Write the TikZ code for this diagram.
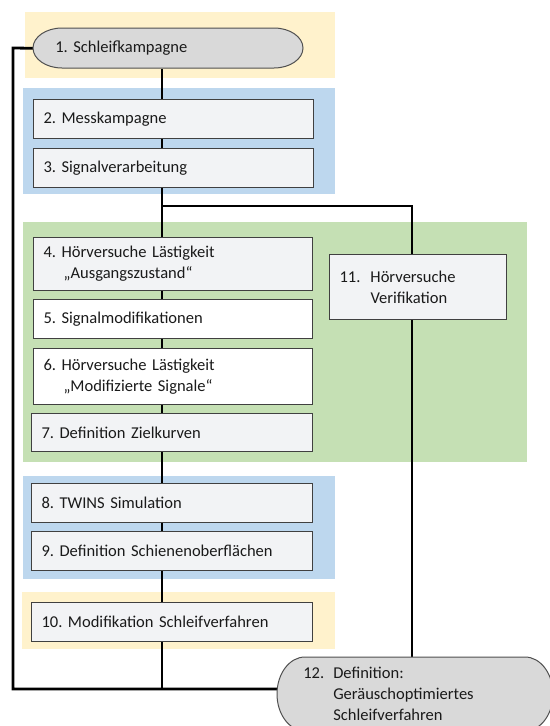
\documentclass[tikz,border=0pt]{standalone}
\usepackage{fontspec}
\setmainfont{Carlito}
\pgfdeclarelayer{bg}
\pgfsetlayers{bg,main}
\definecolor{bandY}{HTML}{FFF2CC}
\definecolor{bandB}{HTML}{BDD7EE}
\definecolor{bandG}{HTML}{C5E0B4}
\definecolor{boxfill}{HTML}{F2F3F5}
\definecolor{boxline}{HTML}{404040}
\definecolor{termfill}{HTML}{D9D9D9}
\definecolor{termline}{HTML}{505050}
\definecolor{txt}{HTML}{1A1A1A}
\frenchspacing
\begin{document}
\begin{tikzpicture}[x=0.75pt,y=-0.75pt,
  every node/.style={font=\fontsize{12.4}{15.75}\selectfont, text=txt},
  stepbox/.style={draw=boxline, line width=0.75pt, fill=boxfill, anchor=north west, inner xsep=7.5pt, inner ysep=0pt, align=left},
  whitebox/.style={stepbox, fill=white},
  term/.style={draw=none, anchor=north west, inner ysep=0pt, align=left},
  termshape/.style={draw=termline, line width=0.75pt, fill=termfill},
  conn/.style={line width=2.1pt, black},
  band/.style={draw=none}]
\useasboundingbox (0,0) rectangle (550,726);
\clip (0,0) rectangle (550,726);

% terminator shapes
\draw[termshape] (62,28) -- (274,28) .. controls (290,28) and (303,37) .. (303,48)
  .. controls (303,59) and (290,68) .. (274,68) -- (62,68)
  .. controls (46,68) and (33,59) .. (33,48) .. controls (33,37) and (46,28) .. cycle;
\draw[termshape] (305,657) -- (525,657) .. controls (540.5,657) and (553,673.6) .. (553,694)
  .. controls (553,714.4) and (540.5,731) .. (525,731) -- (305,731)
  .. controls (289.5,731) and (277,714.4) .. (277,694) .. controls (277,673.6) and (289.5,657) .. cycle;

% nodes
\node[term, inner xsep=16.5pt, text width=169.5pt, minimum height=30pt] (n1) at (33,28) {1. Schleifkampagne};
\node[stepbox, text width=195pt, minimum height=29.25pt] (n2) at (33,99) {2. Messkampagne};
\node[stepbox, text width=195pt, minimum height=29.25pt] (n3) at (33,148) {3. Signalverarbeitung};
\node[stepbox, text width=194.25pt, minimum height=39.75pt] (n4) at (33,237) {4. Hörversuche Lästigkeit\\\hspace*{15pt}„Ausgangszustand“};
\node[whitebox, text width=194.25pt, minimum height=29.25pt] (n5) at (33,299) {5. Signalmodifikationen};
\node[whitebox, text width=194.25pt, minimum height=42pt] (n6) at (33,348) {6. Hörversuche Lästigkeit\\\hspace*{15pt}„Modifizierte Signale“};
\node[stepbox, text width=195.75pt, minimum height=28.5pt] (n7) at (31,413) {7. Definition Zielkurven};
\node[stepbox, text width=195.75pt, minimum height=29.25pt] (n8) at (31,483) {8. TWINS Simulation};
\node[stepbox, text width=195.75pt, minimum height=29.25pt] (n9) at (31,531) {9. Definition Schienenoberflächen};
\node[stepbox, text width=195.75pt, minimum height=29.25pt] (n10) at (31,602) {10. Modifikation Schleifverfahren};
\node[stepbox, text width=117.75pt, minimum height=48.75pt] (n11) at (329,254) {\makebox[23.25pt][l]{11.}Hörversuche\\\hspace*{23.25pt}Verifikation};
\node[term, inner xsep=19.5pt, text width=168pt, minimum height=55.5pt] (n12) at (277,657) {\makebox[22.5pt][l]{12.}Definition:\\\hspace*{22.5pt}Geräuschoptimiertes\\\hspace*{22.5pt}Schleifverfahren};

\coordinate (sp) at (162,0);
\coordinate (rs) at (412,0);
\coordinate (cTL) at (13,48);
\coordinate (cBL) at (13,689);
\coordinate (cBr) at (162,206);

\begin{pgfonlayer}{bg}
  \fill[bandY] (25,12) rectangle (335,78);
  \fill[bandB] (23,88) rectangle (335,194);
  \fill[bandG] (23,222) rectangle (527,462);
  \fill[bandB] (23,476) rectangle (335,579);
  \fill[bandY] (22,592) rectangle (335,649);
  \foreach \a/\b in {n1/n2,n2/n3,n3/n4,n4/n5,n5/n6,n6/n7,n7/n8,n8/n9,n9/n10}
    \draw[conn] (\a.south -| sp) -- (\b.north -| sp);
  \draw[conn] (n10.south -| sp) -- (sp |- cBL);
  \draw[conn] (n12.west |- cBL) -- (cBL) -- (cTL) -- (n1.west);
  \draw[conn] (cBr) -- (cBr -| rs) -- (n11.north -| rs);
  \draw[conn] (n11.south -| rs) -- (n12.north -| rs);
\end{pgfonlayer}
\end{tikzpicture}
\end{document}
